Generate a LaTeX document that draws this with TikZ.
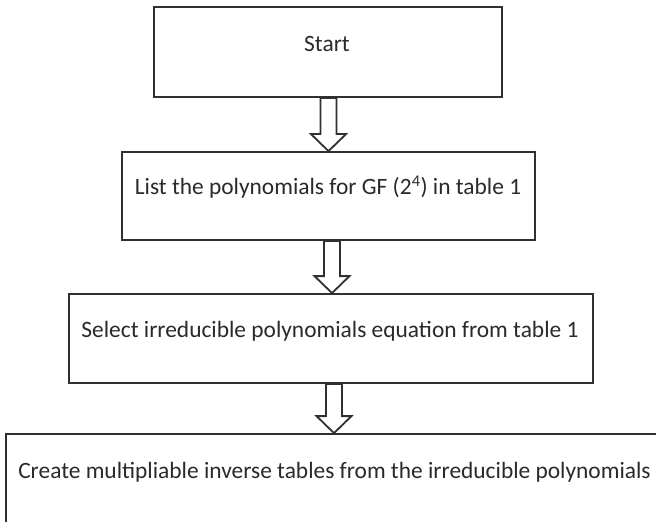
\documentclass[tikz,border=0pt]{standalone}
\usepackage{fontspec}
\setmainfont{Carlito}
\usetikzlibrary{calc}
\definecolor{boxgray}{HTML}{303030}
\definecolor{textgray}{HTML}{2A2A2A}
\newcommand\hollowarrow[3]{% #1 axis coordinate, #2 source node, #3 target node
  \draw[hollow] ($(#1 |- #2.south)+(-8,0)$) -- ($(#1 |- #2.south)+(8,0)$)
    -- ($(#1 |- #3.north)+(8,-17)$) -- ($(#1 |- #3.north)+(17.5,-17)$)
    -- (#1 |- #3.north)
    -- ($(#1 |- #3.north)+(-17.5,-17)$) -- ($(#1 |- #3.north)+(-8,-17)$) -- cycle;}
\begin{document}
\begin{tikzpicture}[x=1bp,y=-1bp,
  box/.style={draw=boxgray, line width=1.8bp, inner sep=0pt, fill=white},
  lbl/.style={text=textgray, font=\fontsize{23.5}{28}\selectfont, inner sep=0pt, anchor=base},
  hollow/.style={draw=boxgray, line width=1.8bp, fill=white, line join=miter}]
\useasboundingbox (0,0) rectangle (656,522);
\clip (0,0) rectangle (656,522);
\node[box, minimum width=348bp, minimum height=90bp] (b1) at (328,52) {};
\node[box, minimum width=413bp, minimum height=88bp] (b2) at (328.5,196) {};
\node[box, minimum width=524bp, minimum height=89bp] (b3) at (331,338.5) {};
\node[box, minimum width=720bp, minimum height=140bp] (b4) at (366,504) {};
\node[lbl] (t1) at (327,52) {Start};
\node[lbl] (t2) at (328,195) {List the polynomials for GF (2\textsuperscript{4}) in table 1};
\node[lbl] (t3) at (330,337) {Select irreducible polynomials equation from table 1};
\node[lbl] (t4) at (334.5,478) {Create multipliable inverse tables from the irreducible polynomials};
\coordinate (a1) at (328.5,0);
\coordinate (a2) at (332,0);
\coordinate (a3) at (334,0);
\hollowarrow{a1}{b1}{b2}
\hollowarrow{a2}{b2}{b3}
\hollowarrow{a3}{b3}{b4}
\end{tikzpicture}
\end{document}
